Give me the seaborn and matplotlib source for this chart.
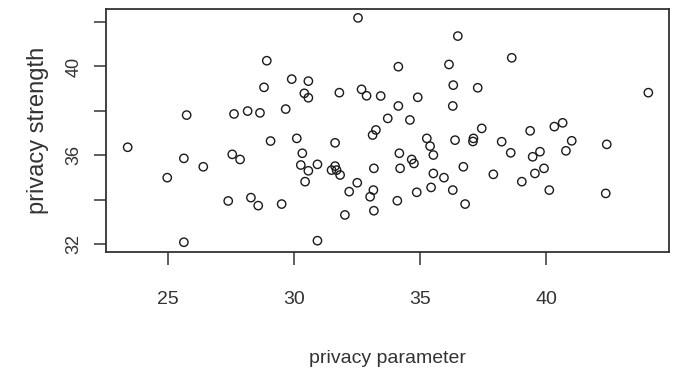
import matplotlib
matplotlib.use("Agg")
import matplotlib.pyplot as plt
import seaborn as sns
import pandas as pd

privacy_parameter = [
    28.92, 28.81, 25.74, 27.62, 28.16, 28.65, 32.54, 36.50, 34.14, 36.15,
    29.91, 30.57, 30.41, 30.57, 31.80, 32.68, 32.88, 33.44, 34.91, 36.32,
    36.30, 34.14, 33.72, 34.60, 29.67, 33.25, 33.12, 30.11, 38.64, 37.29,
    44.06, 37.45, 39.37, 40.33, 40.66, 23.40, 29.07, 25.63, 24.97, 26.40,
    27.55, 27.86, 27.39, 28.29, 28.58, 25.63, 31.63, 30.33, 30.27, 30.57,
    30.93, 30.44, 29.51, 31.63, 31.49, 31.69, 31.83, 32.51, 32.19, 32.02,
    30.93, 33.17, 33.15, 33.02, 33.17, 34.18, 34.21, 34.10, 34.67, 34.76,
    35.27, 35.40, 35.53, 36.39, 35.53, 35.95, 35.44, 34.87, 36.30, 36.72,
    36.79, 37.12, 37.10, 38.24, 38.60, 39.76, 39.47, 41.02, 40.79, 42.41,
    37.91, 39.92, 39.56, 39.04, 40.13, 42.37,
]
privacy_strength = [
    40.26, 39.06, 37.81, 37.86, 37.99, 37.91, 42.19, 41.37, 39.99, 40.09,
    39.43, 39.34, 38.79, 38.59, 38.82, 38.97, 38.68, 38.67, 38.61, 39.16,
    38.22, 38.22, 37.66, 37.59, 38.08, 37.14, 36.91, 36.76, 40.39, 39.04,
    38.82, 37.21, 37.10, 37.29, 37.46, 36.36, 36.64, 35.86, 34.99, 35.48,
    36.04, 35.81, 33.94, 34.09, 33.73, 32.08, 36.56, 36.09, 35.56, 35.30,
    35.59, 34.81, 33.80, 35.51, 35.33, 35.33, 35.11, 34.76, 34.36, 33.31,
    32.15, 35.41, 34.43, 34.13, 33.50, 36.09, 35.41, 33.95, 35.81, 35.63,
    36.76, 36.41, 36.01, 36.68, 35.18, 34.99, 34.55, 34.33, 34.43, 35.48,
    33.80, 36.76, 36.62, 36.61, 36.11, 36.16, 35.93, 36.65, 36.20, 36.49,
    35.14, 35.41, 35.18, 34.81, 34.43, 34.28,
]
x_ticks = [25, 30, 35, 40]
x_tick_labels = ["25", "30", "35", "40"]
y_ticks = [32, 34, 36, 38, 40, 42]
y_tick_labels = ["32", "", "36", "", "40", ""]

df = pd.DataFrame({"privacy parameter": privacy_parameter,
                   "privacy strength": privacy_strength})

sns.set_style("white")
plt.rcParams["font.family"] = ["Liberation Sans", "DejaVu Sans"]

fig = plt.figure(figsize=(6.75, 3.73), dpi=100)
ax = fig.add_axes([106/675, 1 - 252/373, (669-106)/675, (252-9)/373])

sns.scatterplot(data=df, x="privacy parameter", y="privacy strength", ax=ax,
                marker="o", s=36, facecolor="none", edgecolor="#1a1a1a",
                linewidth=1.0)

text_color = "#333333"
ax.set_xlim(22.54, 44.88)
ax.set_ylim(31.64, 42.59)
ax.set_xticks(x_ticks)
ax.set_xticklabels(x_tick_labels, fontsize=14, color=text_color)
ax.set_yticks(y_ticks)
ax.set_yticklabels(y_tick_labels, fontsize=13, color=text_color,
                   rotation=90, va="center")
ax.tick_params(axis="both", direction="out", length=9, width=1.1,
               color="#333333", left=True, bottom=True)
ax.tick_params(axis="x", pad=19)
ax.tick_params(axis="y", pad=8)

for sp in ax.spines.values():
    sp.set_visible(True)
    sp.set_color("#333333")
    sp.set_linewidth(1.3)

ax.set_xlabel("privacy parameter", fontsize=14, color=text_color, labelpad=30)
ax.set_ylabel("privacy strength", fontsize=17, color=text_color, labelpad=12)

fig.savefig("out.png", dpi=100, facecolor="white")
